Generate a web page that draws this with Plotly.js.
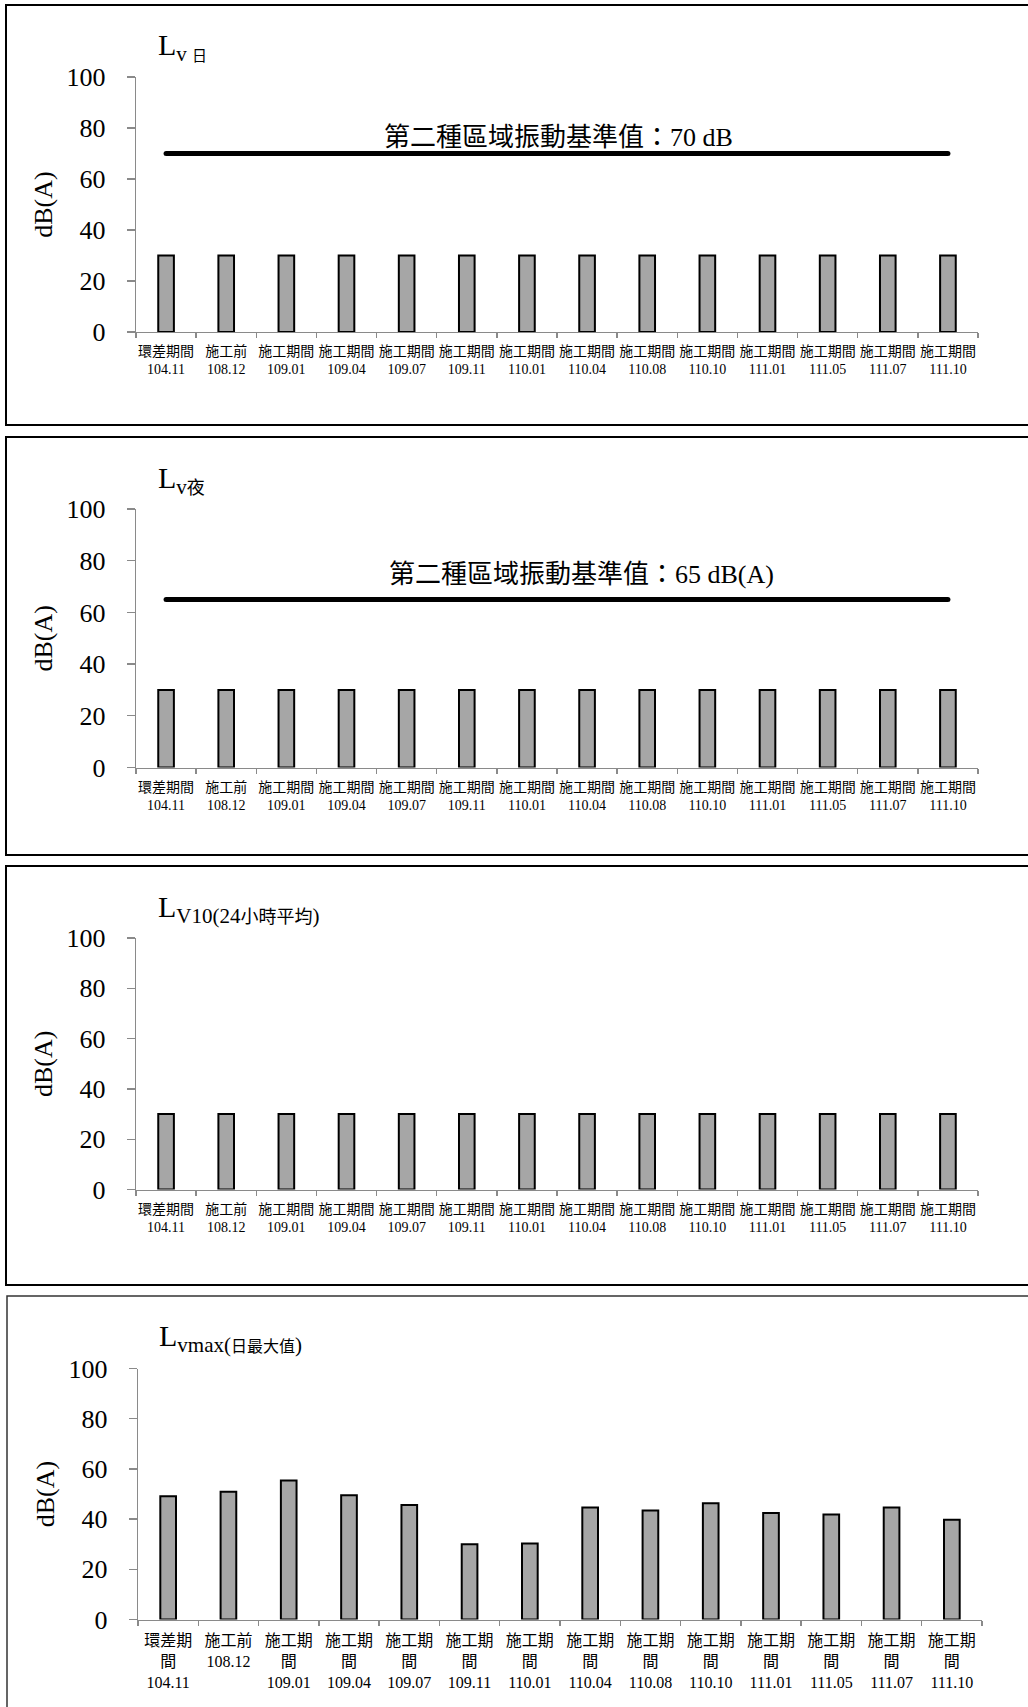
<!DOCTYPE html>
<html>
<head>
<meta charset="utf-8">
<script src="https://cdn.plot.ly/plotly-3.0.1.min.js"></script>
<style>
  body { margin: 0; background: #fff; }
  .js-line { stroke-linecap: round; }
</style>
</head>
<body>
<div id="chart" style="width:1028px;height:1707px"></div>
<script>
// ---- data ----
const phases = ['環差期間', '施工前', '施工期間', '施工期間', '施工期間', '施工期間', '施工期間',
                '施工期間', '施工期間', '施工期間', '施工期間', '施工期間', '施工期間', '施工期間'];
const dates = ['104.11', '108.12', '109.01', '109.04', '109.07', '109.11', '110.01',
               '110.04', '110.08', '110.10', '111.01', '111.05', '111.07', '111.10'];
const lvDay   = [30, 30, 30, 30, 30, 30, 30, 30, 30, 30, 30, 30, 30, 30];
const lvNight = [30, 30, 30, 30, 30, 30, 30, 30, 30, 30, 30, 30, 30, 30];
const lv10    = [30, 30, 30, 30, 30, 30, 30, 30, 30, 30, 30, 30, 30, 30];
const lvMax   = [49.1, 50.9, 55.4, 49.5, 45.6, 30.0, 30.3, 44.6, 43.4, 46.3, 42.4, 41.8, 44.6, 39.7];
const limitDay = 70;
const limitNight = 65;
const limitDayText = '第二種區域振動基準值：70 dB';
const limitNightText = '第二種區域振動基準值：65 dB(A)';
const yTitle = 'dB(A)';

// tick labels built from the data
const labels2 = phases.map((p, i) => p + '<br>' + dates[i]);
const labels3 = phases.map((p, i) => (p.length > 3 ? p.slice(0, 3) + '<br>' + p.slice(3) : p) + '<br>' + dates[i]);

// ---- layout helpers ----
const W = 1028, H = 1707;
const px = v => v / W;
const py = v => 1 - v / H;
const FONT = 'Liberation Serif, "Noto Sans CJK TC", serif';
const AXC = '#8a8a8a';

function xAxis(domain, size) {
  return {
    domain: domain, type: 'category', range: [-0.5, 13.5], anchor: 'y',
    showline: true, linecolor: AXC, linewidth: 1.3,
    ticks: 'outside', tickson: 'boundaries', ticklen: 5, tickcolor: AXC, tickwidth: 1.3,
    tickfont: { family: FONT, size: size, color: '#000' }, tickangle: 0,
    showgrid: false, zeroline: false, fixedrange: true, ticklabelstandoff: 6
  };
}
function yAxis(domain) {
  return {
    domain: domain, range: [0, 100], tick0: 0, dtick: 20,
    showline: true, linecolor: AXC, linewidth: 1.3,
    ticks: 'outside', ticklen: 8, tickcolor: AXC, tickwidth: 1.3,
    tickfont: { family: FONT, size: 26, color: '#000' },
    ticklabelstandoff: 16,
    showgrid: false, zeroline: false, fixedrange: true,
    title: { text: yTitle, font: { family: FONT, size: 26, color: '#000' }, standoff: 6 }
  };
}

const barStyle = { color: '#a6a6a6', line: { color: '#000', width: 2 } };
function barTrace(x, y, xa, ya) {
  return { type: 'bar', x: x, y: y, xaxis: xa, yaxis: ya, width: 0.26,
           marker: barStyle, hoverinfo: 'skip', showlegend: false };
}
function limitTrace(x, v, xa, ya) {
  return { type: 'scatter', mode: 'lines', x: [x[0], x[x.length - 1]], y: [v, v],
           xaxis: xa, yaxis: ya, line: { color: '#000', width: 5 },
           hoverinfo: 'skip', showlegend: false };
}

const data = [
  barTrace(labels2, lvDay, 'x', 'y'),
  limitTrace(labels2, limitDay, 'x', 'y'),
  barTrace(labels2, lvNight, 'x2', 'y2'),
  limitTrace(labels2, limitNight, 'x2', 'y2'),
  barTrace(labels2, lv10, 'x3', 'y3'),
  barTrace(labels3, lvMax, 'x4', 'y4')
];

const xa1 = xAxis([px(136), px(978)], 14); xa1.anchor = 'y';
const xa2 = xAxis([px(136), px(978)], 14); xa2.anchor = 'y2';
const xa3 = xAxis([px(136), px(978)], 14); xa3.anchor = 'y3';
const xa4 = xAxis([px(138), px(982)], 16); xa4.anchor = 'y4';
const ya1 = yAxis([py(332), py(77)]); ya1.anchor = 'x';
const ya2 = yAxis([py(767.5), py(509)]); ya2.anchor = 'x2';
const ya3 = yAxis([py(1189.5), py(938)]); ya3.anchor = 'x3';
const ya4 = yAxis([py(1619.5), py(1368.5)]); ya4.anchor = 'x4';

function titleAnn(text, left, baseline) {
  return { xref: 'paper', yref: 'paper', x: px(left), y: py(baseline + 10),
           xanchor: 'left', yanchor: 'bottom', showarrow: false, text: text,
           font: { family: FONT, size: 30, color: '#000' } };
}
function limitAnn(text, xa, ya, xc, v, shift) {
  return { xref: xa, yref: ya, x: xc, y: v, xanchor: 'center', yanchor: 'bottom',
           yshift: shift, showarrow: false, text: text,
           font: { family: FONT, size: 26, color: '#000' } };
}

const annotations = [
  titleAnn("L<sub>v <span style='font-size:15px'>日</span></sub>", 156, 58),
  titleAnn("L<sub>v<span style='font-size:18px'>夜</span></sub>", 156, 491),
  titleAnn("L<sub>V10(24<span style='font-size:18px'>小時平均</span>)</sub>", 156, 920),
  titleAnn("L<sub>vmax(<span style='font-size:16px'>日最大值</span>)</sub>", 157, 1349),
  limitAnn(limitDayText, 'x', 'y', 6.52, limitDay, 0),
  limitAnn(limitNightText, 'x2', 'y2', 6.9, limitNight, 8)
];

function box(x0, y0, y1, w, c) {
  return { type: 'rect', xref: 'paper', yref: 'paper', x0: px(x0), x1: 1.02, y0: py(y1), y1: py(y0),
           line: { color: c, width: w }, fillcolor: 'rgba(0,0,0,0)', layer: 'below' };
}
const shapes = [
  box(6, 5, 425, 2, '#000'),
  box(6, 437, 855, 2, '#000'),
  box(6, 866, 1285, 2, '#000'),
  box(7, 1296, 1760, 1.5, '#333')
];

const layout = {
  width: W, height: H,
  margin: { l: 0, r: 0, t: 0, b: 0 },
  paper_bgcolor: '#fff', plot_bgcolor: 'rgba(0,0,0,0)',
  font: { family: FONT, color: '#000' },
  showlegend: false, bargap: 0,
  xaxis: xa1, yaxis: ya1, xaxis2: xa2, yaxis2: ya2,
  xaxis3: xa3, yaxis3: ya3, xaxis4: xa4, yaxis4: ya4,
  annotations: annotations, shapes: shapes
};

Plotly.newPlot('chart', data, layout, { displayModeBar: false, staticPlot: true });
</script>
</body>
</html>
